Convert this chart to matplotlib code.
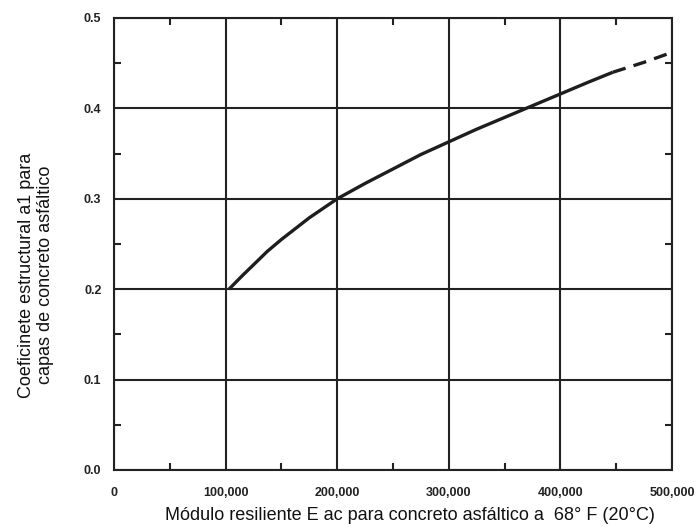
import matplotlib
matplotlib.use("Agg")
import matplotlib.pyplot as plt
from matplotlib.ticker import MultipleLocator, FuncFormatter

# curve (modulus in psi, a1 coefficient)
modulus_solid = [103000, 115000, 125000, 137500, 150000, 175000, 200000, 225000, 250000,
                 275000, 300000, 325000, 350000, 375000, 400000, 425000, 447000]
a1_solid = [0.200, 0.215, 0.227, 0.242, 0.255, 0.279, 0.300, 0.317, 0.333,
            0.349, 0.363, 0.377, 0.390, 0.403, 0.416, 0.429, 0.440]
modulus_dashed = [447000, 475000, 500000]
a1_dashed = [0.440, 0.451, 0.462]

plt.rcParams['font.family'] = ['Liberation Sans', 'DejaVu Sans']

fig = plt.figure(figsize=(6.96, 5.28), dpi=100)
ax = fig.add_axes([114 / 696, 58 / 528, 558 / 696, 452 / 528])

ax.plot(modulus_solid, a1_solid, color='#1e1e1e', lw=2.4, solid_capstyle='butt',
        solid_joinstyle='round')
ax.plot(modulus_dashed, a1_dashed, color='#1e1e1e', lw=2.4, dashes=(4, 2.5))

ax.set_xlim(0, 500000)
ax.set_ylim(0, 0.5)
ax.xaxis.set_major_locator(MultipleLocator(100000))
ax.xaxis.set_minor_locator(MultipleLocator(50000))
ax.yaxis.set_major_locator(MultipleLocator(0.1))
ax.yaxis.set_minor_locator(MultipleLocator(0.05))
ax.xaxis.set_major_formatter(FuncFormatter(lambda v, p: "0" if v == 0 else f"{int(v):,}"))
ax.yaxis.set_major_formatter(FuncFormatter(lambda v, p: f"{v:.1f}"))

ax.grid(True, which='major', color='#222222', lw=1.5)
ax.tick_params(axis='x', which='major', length=0, pad=12, labelsize=9)
ax.tick_params(axis='y', which='major', length=0, pad=9, labelsize=9)
ax.tick_params(which='minor', direction='in', length=5, width=1.5, color='#222222',
               top=True, right=True, bottom=True, left=True)
for lab in ax.get_xticklabels() + ax.get_yticklabels():
    lab.set_fontweight('bold')
    lab.set_color('#222222')
for s in ax.spines.values():
    s.set_linewidth(1.5)
    s.set_color('#222222')

fig.text(410 / 696, 1 - 516 / 528,
         "Módulo resiliente E ac para concreto asfáltico a  68° F (20°C)",
         fontsize=13, ha='center', va='center', color='#111111')
fig.text(36 / 696, 1 - 275 / 528,
         "Coeficinete estructural a1 para\ncapas de concreto asfáltico",
         fontsize=13, rotation=90, ha='center', va='center', linespacing=1.1,
         multialignment='center', color='#111111')

fig.savefig("out.png", dpi=100)
